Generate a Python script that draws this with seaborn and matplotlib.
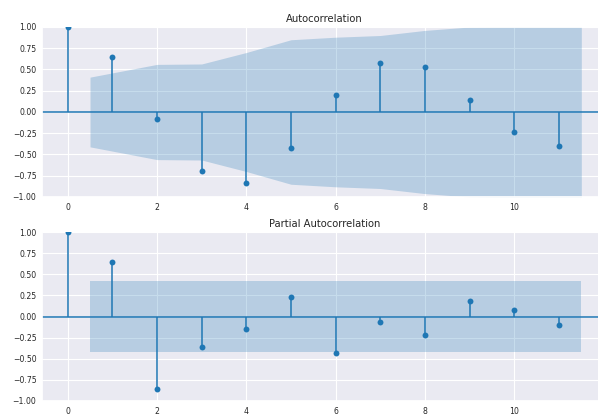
import numpy as np
import matplotlib
matplotlib.use("Agg")
import matplotlib.pyplot as plt
import seaborn as sns

lags = np.arange(12)
acf_vals = [1.0, 0.645, -0.083, -0.70, -0.84, -0.42, 0.196, 0.58, 0.535, 0.145, -0.233, -0.395]
acf_band = [0.41, 0.56, 0.565, 0.70, 0.85, 0.88, 0.90, 0.96, 1.0, 1.01, 1.02]
pacf_vals = [1.0, 0.644, -0.858, -0.356, -0.146, 0.229, -0.435, -0.068, -0.217, 0.186, 0.079, -0.095]
pacf_band = [0.415] * 11

sns.set_theme(style="darkgrid", palette="tab10")
plt.rcParams["grid.linewidth"] = 0.8

fig = plt.figure(figsize=(5.98, 4.17), dpi=100)
ax1 = fig.add_axes([42 / 598, 1 - 197 / 417, 565 / 598, 170 / 417])
ax2 = fig.add_axes([42 / 598, 1 - 401 / 417, 565 / 598, 169 / 417])

c = sns.color_palette("tab10")[0]


def corr_plot(ax, vals, band, title):
    # band spans from lag 1 - 0.5 to last lag + 0.5, like statsmodels
    bx = lags[1:].astype(float)
    bx[0] -= 0.5
    bx[-1] += 0.5
    band = np.array(band)
    ax.fill_between(bx, -band, band, color=c, alpha=0.25, linewidth=0)
    ax.vlines(lags, 0, vals, color=c, linewidth=1.1)
    ax.axhline(0, color=c, linewidth=1.1)
    sns.scatterplot(x=lags, y=vals, ax=ax, color=c, s=18, linewidth=0, zorder=3)
    ax.set_xlim(-0.575, 12.075)
    ax.set_ylim(-1, 1)
    ax.set_xticks([0, 2, 4, 6, 8, 10])
    ax.set_yticks(np.arange(-1, 1.01, 0.25))
    ax.set_yticklabels([f"{v:.2f}".replace("-", "\u2212") for v in np.arange(-1, 1.01, 0.25)])
    ax.tick_params(labelsize=5.6, length=0, pad=4, colors=".15")
    ax.set_title(title, fontsize=7.2, pad=3.6, color=".15")


corr_plot(ax1, acf_vals, acf_band, "Autocorrelation")
corr_plot(ax2, pacf_vals, pacf_band, "Partial Autocorrelation")

fig.savefig("out.png", dpi=100)
